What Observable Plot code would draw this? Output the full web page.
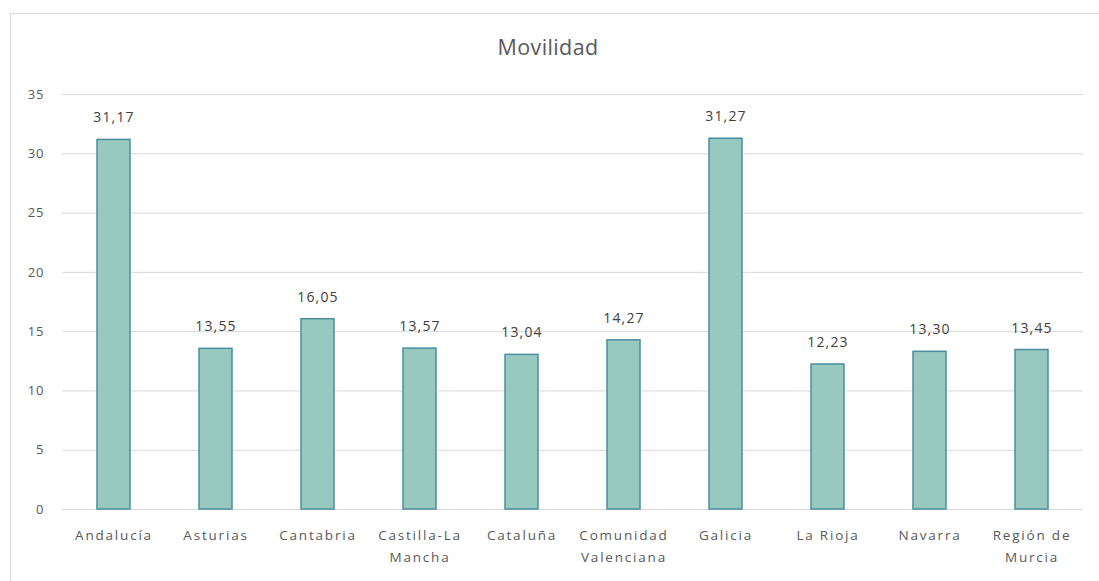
<!DOCTYPE html>
<html>
<head>
<meta charset="utf-8">
<script src="https://cdn.jsdelivr.net/npm/d3@7"></script>
<script src="https://cdn.jsdelivr.net/npm/@observablehq/plot@0.6"></script>
<style>
  html, body { margin: 0; padding: 0; background: #fff; overflow: hidden; }
  #frame { position: absolute; left: 10px; top: 13px; width: 1200px; height: 700px; border: 1px solid #d9d9d9; box-sizing: border-box; }
  #title { position: absolute; left: 0; top: 32px; width: 1096px; text-align: center; font-family: "Open Sans", sans-serif; font-size: 21.5px; color: #595959; letter-spacing: 0.4px; line-height: 30px; }
  #chart { position: absolute; left: 0; top: 0; }
  #chart g[aria-label="x-axis tick label"] text { letter-spacing: 1.8px; }
  #chart g[aria-label="y-axis tick label"] text { letter-spacing: 1px; }
  #chart g[aria-label="text"] text { letter-spacing: 1.2px; }
</style>
</head>
<body>
<div id="frame"></div>
<div id="title">Movilidad</div>
<div id="chart"></div>
<script>
const regions = ["Andalucía", "Asturias", "Cantabria", "Castilla-La Mancha", "Cataluña", "Comunidad Valenciana", "Galicia", "La Rioja", "Navarra", "Región de Murcia"];
const tickLabels = ["Andalucía", "Asturias", "Cantabria", "Castilla-La\nMancha", "Cataluña", "Comunidad\nValenciana", "Galicia", "La Rioja", "Navarra", "Región de\nMurcia"];
const values = [31.17, 13.55, 16.05, 13.57, 13.04, 14.27, 31.27, 12.23, 13.30, 13.45];
const yTicks = [0, 5, 10, 15, 20, 25, 30, 35];

const data = regions.map((r, i) => ({region: r, value: values[i]}));
const labelOf = new Map(regions.map((r, i) => [r, tickLabels[i]]));
const fmt = v => v.toFixed(2).replace(".", ",");
const font = "Open Sans, sans-serif";

const chart = Plot.plot({
  width: 1099,
  height: 581,
  marginTop: 94,
  marginBottom: 72,
  marginLeft: 62,
  marginRight: 16,
  style: {fontFamily: font, background: "transparent"},
  x: {domain: regions, paddingInner: 0.675, paddingOuter: 0.3375, label: null},
  y: {domain: [0, 35], label: null},
  marks: [
    Plot.gridY(yTicks, {stroke: "#d9d9d9", strokeOpacity: 1, strokeWidth: 1}),
    Plot.axisY(yTicks, {tickSize: 0, tickPadding: 18, fontSize: 13, fill: "#595959", label: null}),
    Plot.axisX({tickSize: 0, tickPadding: 15, fontSize: 13.5, fill: "#595959", lineHeight: 1.63, label: null, tickFormat: d => labelOf.get(d)}),
    Plot.barY(data, {x: "region", y: "value", fill: "#98c9bf", stroke: "#4a8ea0", strokeWidth: 1.5}),
    Plot.text(data, {x: "region", y: "value", text: d => fmt(d.value), dy: -22, fontSize: 14, fill: "#404040"})
  ]
});
document.getElementById("chart").appendChild(chart);
</script>
</body>
</html>
